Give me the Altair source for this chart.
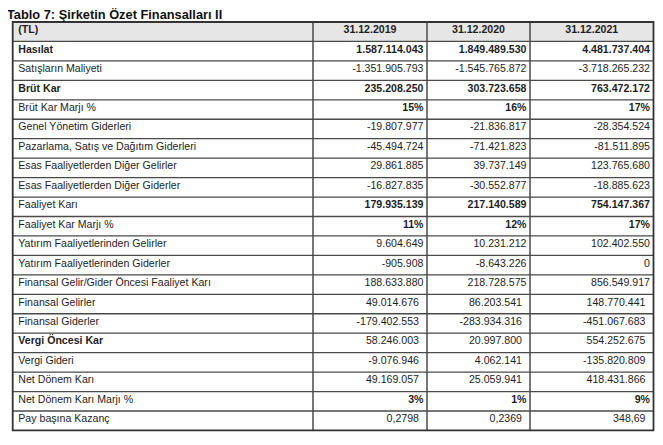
import altair as alt
import pandas as pd

# ---------------- data ----------------
title_text = "Tablo 7: Şirketin Özet Finansalları II"
unit_label = "(TL)"
years = ["31.12.2019", "31.12.2020", "31.12.2021"]
labels = [
    "Hasılat", "Satışların Maliyeti", "Brüt Kar", "Brüt Kar Marjı %",
    "Genel Yönetim Giderleri", "Pazarlama, Satış ve Dağıtım Giderleri",
    "Esas Faaliyetlerden Diğer Gelirler", "Esas Faaliyetlerden Diğer Giderler",
    "Faaliyet Karı", "Faaliyet Kar Marjı %", "Yatırım Faaliyetlerinden Gelirler",
    "Yatırım Faaliyetlerinden Giderler", "Finansal Gelir/Gider Öncesi Faaliyet Karı",
    "Finansal Gelirler", "Finansal Giderler", "Vergi Öncesi Kar", "Vergi Gideri",
    "Net Dönem Karı", "Net Dönem Karı Marjı %", "Pay başına Kazanç",
]
v2019 = ["1.587.114.043", "-1.351.905.793", "235.208.250", "15%", "-19.807.977",
         "-45.494.724", "29.861.885", "-16.827.835", "179.935.139", "11%",
         "9.604.649", "-905.908", "188.633.880", "49.014.676", "-179.402.553",
         "58.246.003", "-9.076.946", "49.169.057", "3%", "0,2798"]
v2020 = ["1.849.489.530", "-1.545.765.872", "303.723.658", "16%", "-21.836.817",
         "-71.421.823", "39.737.149", "-30.552.877", "217.140.589", "12%",
         "10.231.212", "-8.643.226", "218.728.575", "86.203.541", "-283.934.316",
         "20.997.800", "4.062.141", "25.059.941", "1%", "0,2369"]
v2021 = ["4.481.737.404", "-3.718.265.232", "763.472.172", "17%", "-28.354.524",
         "-81.511.895", "123.765.680", "-18.885.623", "754.147.367", "17%",
         "102.402.550", "0", "856.549.917", "148.770.441", "-451.067.683",
         "554.252.675", "-135.820.809", "418.431.866", "9%", "348,69"]

bold_labels = {"Hasılat", "Brüt Kar", "Vergi Öncesi Kar"}
bold_value_rows = {"Hasılat", "Brüt Kar", "Brüt Kar Marjı %", "Faaliyet Karı",
                   "Faaliyet Kar Marjı %", "Net Dönem Karı Marjı %"}
loose_rows = {"Finansal Gelirler", "Finansal Giderler", "Vergi Öncesi Kar",
              "Vergi Gideri", "Net Dönem Karı", "Pay başına Kazanç"}

# ---------------- layout (pixels inside the chart) ----------------
W, H = 647, 429
col_edges = [4.7, 305.0, 419.0, 522.0, 645.5]
table_top, row_h = 14.0, 19.45
n_rows = len(labels) + 1
table_bottom = table_top + n_rows * row_h
FONT = "Liberation Sans"
FS = 10.6
TXT = "#1e1e1e"
LINE = "#4a4a4a"

xs = alt.Scale(domain=[0, W], range=[0, W], nice=False, zero=False)
ys = alt.Scale(domain=[0, n_rows], range=[table_top, table_bottom], nice=False, zero=False)

# cells
cells = []
cells.append(dict(row=0, x=col_edges[0] + 5.6, text=unit_label, kind="label", bold=True))
for j, yr in enumerate(years):
    cells.append(dict(row=0, x=(col_edges[j + 1] + col_edges[j + 2]) / 2, text=yr,
                      kind="head", bold=True))
for i, lab in enumerate(labels):
    r = i + 1
    cells.append(dict(row=r, x=col_edges[0] + 5.6, text=lab, kind="label",
                      bold=lab in bold_labels))
    pad = 8 if lab in loose_rows else 3.5
    for j, vals in enumerate([v2019, v2020, v2021]):
        cells.append(dict(row=r, x=col_edges[j + 2] - pad, text=vals[i], kind="value",
                          bold=lab in bold_value_rows))
df = pd.DataFrame(cells)
df["yc"] = df["row"] + 0.5

X = lambda f: alt.X(f, type="quantitative", scale=xs, axis=None)
Y = lambda f: alt.Y(f, type="quantitative", scale=ys, axis=None)

header_bg = alt.Chart(pd.DataFrame({"x": [col_edges[0]], "x2": [col_edges[-1]], "y": [0], "y2": [1]})).mark_rect(
    color="#e6e6e6").encode(x=X("x"), x2="x2", y=Y("y"), y2="y2")

hlines = alt.Chart(pd.DataFrame({"y": list(range(1, n_rows)), "x": col_edges[0], "x2": col_edges[-1]})).mark_rule(
    color=LINE, strokeWidth=1.3).encode(x=X("x"), x2="x2", y=Y("y"))

vlines = alt.Chart(pd.DataFrame({"x": col_edges[1:-1], "y": 0, "y2": n_rows})).mark_rule(
    color=LINE, strokeWidth=1.5).encode(x=X("x"), y=Y("y"), y2="y2")

border = alt.Chart(pd.DataFrame({"x": [col_edges[0]], "x2": [col_edges[-1]], "y": [0], "y2": [n_rows]})).mark_rect(
    fill=None, stroke="#333333", strokeWidth=1.8).encode(x=X("x"), x2="x2", y=Y("y"), y2="y2")

def text_layer(kind, bold, align):
    sub = df[(df.kind == kind) & (df.bold == bold)]
    return alt.Chart(sub).mark_text(
        align=align, baseline="middle", dy=-1.5, font=FONT, fontSize=FS,
        fontWeight="bold" if bold else "normal", color=TXT
    ).encode(x=X("x"), y=Y("yc"), text="text:N")

texts = [
    text_layer("label", True, "left"), text_layer("label", False, "left"),
    text_layer("head", True, "center"),
    text_layer("value", True, "right"), text_layer("value", False, "right"),
]

title = alt.Chart(pd.DataFrame({"t": [title_text]})).mark_text(
    align="left", baseline="alphabetic", font=FONT, fontSize=12.8, fontWeight="bold", color="#111111"
).encode(x=alt.value(-1), y=alt.value(11.3), text="t:N")

chart = alt.layer(header_bg, hlines, vlines, border, *texts, title).properties(
    width=W, height=H, padding=0, autosize=alt.AutoSizeParams(type="none")
).configure_view(stroke=None)

chart.save("out.html", embed_options={"renderer": "svg", "actions": False})
